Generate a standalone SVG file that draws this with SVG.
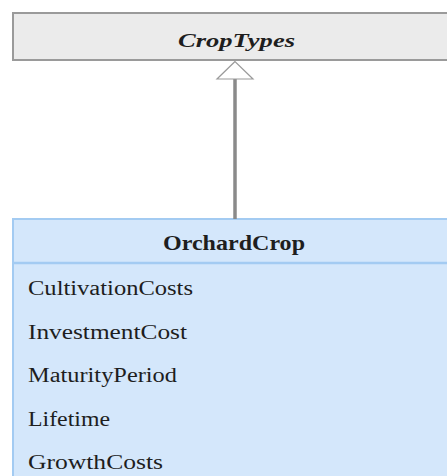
<svg xmlns="http://www.w3.org/2000/svg" width="447" height="476" viewBox="0 0 447 476">
<style>
text{font-family:"Liberation Serif","Times New Roman",serif;fill:#1e1e1e}
.a{font-size:20px}
</style>
<rect width="447" height="476" fill="#fff"/>
<g id="CropTypes">
<rect x="13" y="13" width="450" height="47" fill="#ebebeb" stroke="#9a9a9a" stroke-width="2"/>
<text x="178" y="47" font-size="19.5" font-style="italic" font-weight="bold" textLength="117" lengthAdjust="spacingAndGlyphs">CropTypes</text>
</g>
<g id="OrchardCrop">
<rect x="13" y="219" width="450" height="280" fill="#d4e7fb" stroke="#a3cbf2" stroke-width="2"/>
<line x1="13" y1="263" x2="463" y2="263" stroke="#a3cbf2" stroke-width="2.5"/>
<text x="163" y="250" font-size="21" font-weight="bold" textLength="142" lengthAdjust="spacingAndGlyphs">OrchardCrop</text>
<text class="a" x="28" y="295" textLength="165" lengthAdjust="spacingAndGlyphs">CultivationCosts</text>
<text class="a" x="28" y="338.5" textLength="159" lengthAdjust="spacingAndGlyphs">InvestmentCost</text>
<text class="a" x="28" y="382" textLength="149" lengthAdjust="spacingAndGlyphs">MaturityPeriod</text>
<text class="a" x="28" y="425.5" textLength="82" lengthAdjust="spacingAndGlyphs">Lifetime</text>
<text class="a" x="28" y="469" textLength="135" lengthAdjust="spacingAndGlyphs">GrowthCosts</text>
</g>
<g id="connectors">
<line x1="235" y1="79" x2="235" y2="219" stroke="#8a8a8a" stroke-width="3.5"/>
<polygon points="235,61.5 217,79 253,79" fill="#fff" stroke="#9a9a9a" stroke-width="1.2"/>
</g>
</svg>
